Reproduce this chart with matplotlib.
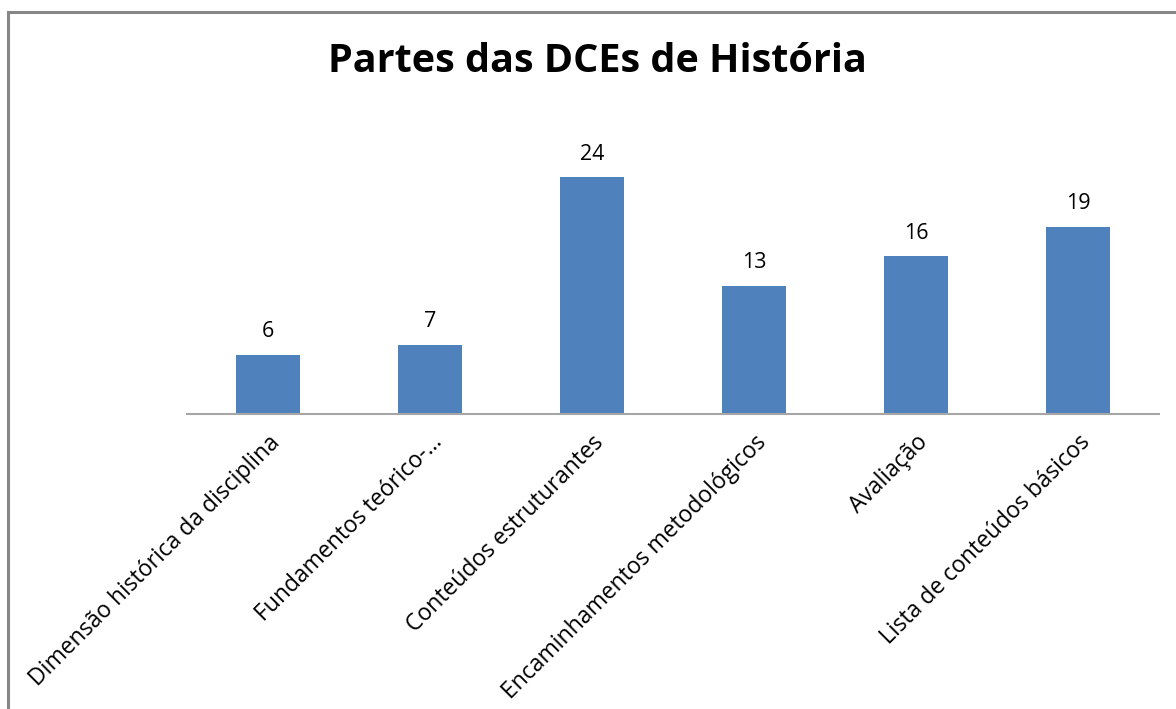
import matplotlib
matplotlib.use("Agg")
import matplotlib.pyplot as plt
from matplotlib.patches import Rectangle

categories = [
    "Dimensão histórica da disciplina",
    "Fundamentos teórico-…",
    "Conteúdos estruturantes",
    "Encaminhamentos metodológicos",
    "Avaliação",
    "Lista de conteúdos básicos",
]
values = [6, 7, 24, 13, 16, 19]
title = "Partes das DCEs de História"

plt.rcParams["font.family"] = ["Open Sans", "DejaVu Sans"]

W, H = 1176, 709
fig = plt.figure(figsize=(W / 100, H / 100), dpi=100)
fig.patch.set_facecolor("white")

# outer chart frame (left and top edges visible)
fig.add_artist(Rectangle((8 / W, -0.1), 1.2, (H - 12) / H + 0.1,
                         transform=fig.transFigure, fill=False,
                         edgecolor="#878787", linewidth=2.2))

ax = fig.add_axes([187 / W, (H - 414) / H, 972 / W, 296 / H])
x = range(len(categories))
bars = ax.bar(x, values, width=0.4, color="#4F81BD")
ax.set_xlim(-0.5, len(categories) - 0.5)
ax.set_ylim(0, 30)

for s in ["top", "right", "left"]:
    ax.spines[s].set_visible(False)
ax.spines["bottom"].set_color("#A6A6A6")
ax.spines["bottom"].set_linewidth(1.5)
ax.set_yticks([])
ax.set_xticks(list(x))
ax.tick_params(axis="x", length=0, pad=12)
ax.set_xticklabels(categories, rotation=45, ha="right", va="top",
                   rotation_mode="anchor", fontsize=16.5, color="#000000")

for b, v in zip(bars, values):
    ax.annotate(str(v), (b.get_x() + b.get_width() / 2, v),
                xytext=(0, 9), textcoords="offset points",
                ha="center", va="bottom", fontsize=15.5, color="#000000")

fig.text(597 / W, 1 - 62 / H, title, ha="center", va="center",
         fontsize=28.5, fontweight="bold", color="#000000")

fig.savefig("out.png", dpi=100, facecolor="white")
